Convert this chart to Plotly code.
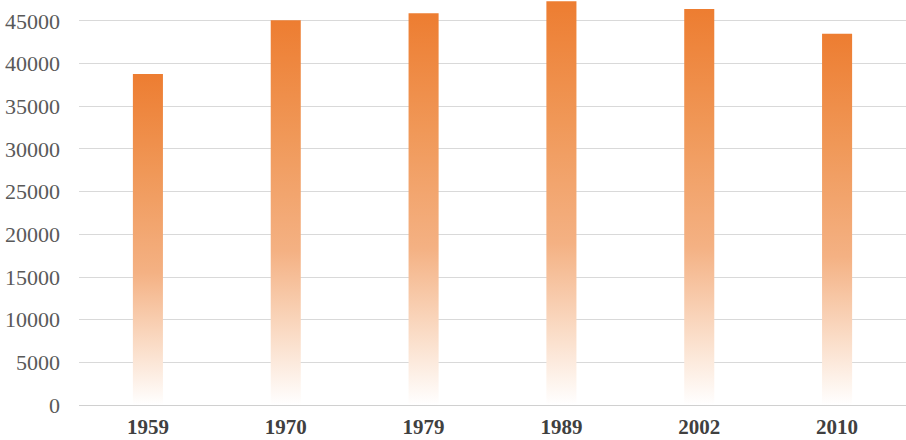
import plotly.graph_objects as go

years = ["1959", "1970", "1979", "1989", "2002", "2010"]
population = [38800, 45100, 45900, 47300, 46400, 43500]
y_ticks = [0, 5000, 10000, 15000, 20000, 25000, 30000, 35000, 40000, 45000]

bar_half = 0.109
gradient = [
    [0.0, "#FFFFFF"],
    [0.15, "#FBE2D0"],
    [0.4, "#F4B183"],
    [0.7, "#F09858"],
    [1.0, "#ED7D31"],
]

fig = go.Figure()

# bars drawn as filled shapes so each one gets its own vertical gradient
for i, (yr, val) in enumerate(zip(years, population)):
    x0, x1 = i - bar_half, i + bar_half
    fig.add_trace(go.Scatter(
        x=[x0, x1, x1, x0, x0],
        y=[0, 0, val, val, 0],
        mode="lines",
        line=dict(width=0),
        fill="toself",
        fillgradient=dict(type="vertical", colorscale=gradient),
        name=yr,
        hoverinfo="skip",
        showlegend=False,
    ))

fig.update_layout(
    width=906,
    height=440,
    margin=dict(l=79, r=0, t=0, b=35),
    plot_bgcolor="white",
    paper_bgcolor="white",
    font=dict(family="Liberation Serif, Times New Roman, serif"),
    xaxis=dict(
        range=[-0.5, 5.5],
        tickmode="array",
        tickvals=list(range(len(years))),
        ticktext=["<b>%s</b>" % y for y in years],
        tickfont=dict(size=21, color="#404040"),
        showgrid=False,
        zeroline=False,
        showline=False,
        ticks="",
        ticklabelstandoff=7,
        automargin=False,
    ),
    yaxis=dict(
        range=[0, 47460],
        tickvals=y_ticks,
        tickformat="d",
        tickfont=dict(size=22, color="#595959"),
        showgrid=True,
        gridcolor="#D9D9D9",
        gridwidth=1.3,
        zeroline=True,
        zerolinecolor="#D0D0D0",
        zerolinewidth=1.3,
        showline=False,
        ticks="",
        ticklabelstandoff=18,
        automargin=False,
    ),
)

# drop the default page margin so the chart sits at the window's corner
fig.write_html(
    "out.html",
    config={"displayModeBar": False},
    post_script="document.body.style.margin = '0';",
)
